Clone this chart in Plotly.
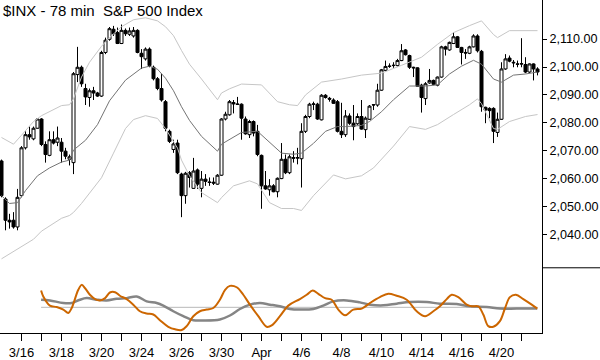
import plotly.graph_objects as go

title_text = "$INX - 78 min\u00a0\u00a0S&P 500 Index"

# ---- 78-minute OHLC bars (3/13 last day + 3/16 .. 4/21) ----
opens = [2066.4, 2052.8, 2045.2, 2045.2, 2042.8, 2054.0, 2071.1, 2075.8, 2074.3, 2078.1,
         2081.4, 2072.3, 2068.4, 2074.0, 2073.1, 2073.1, 2069.9, 2067.0, 2065.8, 2097.3,
         2099.9, 2092.3, 2089.1, 2091.5, 2090.7, 2089.6, 2105.2, 2109.9, 2113.5, 2112.3,
         2108.4, 2113.1, 2111.7, 2111.1, 2113.1, 2104.9, 2102.9, 2106.4, 2099.9, 2095.8,
         2092.3, 2087.6, 2077.0, 2070.5, 2072.8, 2061.7, 2054.0, 2062.2, 2056.6, 2063.2,
         2056.6, 2059.9, 2058.9, 2058.8, 2058.1, 2061.3, 2081.4, 2082.9, 2087.3, 2086.8,
         2086.7, 2081.4, 2075.8, 2080.5, 2077.0, 2068.4, 2057.5, 2056.1, 2057.5, 2055.4,
         2060.1, 2067.0, 2062.2, 2067.6, 2067.4, 2067.2, 2077.0, 2082.3, 2086.8, 2086.7,
         2081.1, 2089.9, 2088.8, 2088.2, 2087.6, 2077.0, 2075.8, 2082.5, 2079.9, 2079.7,
         2082.3, 2077.6, 2081.3, 2086.4, 2086.4, 2091.7, 2098.8, 2100.2, 2100.5, 2100.5,
         2102.3, 2106.1, 2104.1, 2099.9, 2099.7, 2093.5, 2088.7, 2094.3, 2095.2, 2093.5,
         2096.4, 2107.2, 2106.1, 2108.4, 2110.8, 2107.0, 2105.2, 2104.9, 2107.2, 2111.1,
         2105.6, 2085.6, 2085.2, 2085.2, 2076.6, 2081.3, 2099.3, 2103.2, 2101.7, 2101.1,
         2101.2, 2100.9, 2098.2, 2101.1, 2099.3]
highs = [2066.9, 2053.4, 2047.5, 2048.1, 2056.4, 2071.7, 2077.0, 2078.7, 2078.7, 2081.7,
         2081.7, 2073.4, 2077.0, 2077.0, 2078.7, 2074.6, 2071.1, 2068.7, 2098.2, 2107.2,
         2100.5, 2094.0, 2092.3, 2092.9, 2091.1, 2105.8, 2110.5, 2114.3, 2114.7, 2114.1,
         2115.2, 2113.8, 2114.1, 2114.3, 2113.5, 2106.4, 2107.0, 2107.0, 2100.5, 2096.4,
         2097.6, 2088.2, 2077.6, 2074.0, 2074.0, 2062.2, 2062.5, 2062.8, 2067.5, 2063.7,
         2062.8, 2061.7, 2060.5, 2060.5, 2061.7, 2081.7, 2084.0, 2088.2, 2088.2, 2089.3,
         2087.0, 2082.3, 2081.1, 2080.9, 2079.3, 2068.7, 2062.8, 2059.9, 2058.1, 2060.5,
         2072.8, 2068.7, 2068.7, 2069.9, 2071.1, 2079.9, 2082.9, 2087.2, 2087.6, 2087.2,
         2090.3, 2090.3, 2089.3, 2088.8, 2088.2, 2087.2, 2084.6, 2083.4, 2086.4, 2083.4,
         2088.2, 2082.3, 2086.4, 2086.7, 2094.0, 2099.3, 2102.3, 2101.3, 2101.7, 2102.9,
         2108.2, 2106.4, 2104.4, 2100.1, 2099.9, 2094.0, 2094.6, 2099.3, 2095.5, 2096.6,
         2107.6, 2107.6, 2109.1, 2112.3, 2111.1, 2107.2, 2106.4, 2107.6, 2111.7, 2111.7,
         2106.1, 2085.8, 2085.6, 2085.6, 2083.7, 2101.7, 2104.6, 2104.1, 2102.5, 2102.3,
         2110.3, 2103.5, 2101.3, 2101.3, 2099.9]
lows = [2053.4, 2041.6, 2042.2, 2042.2, 2041.6, 2053.4, 2070.5, 2074.0, 2073.8, 2077.9,
        2071.7, 2065.8, 2068.1, 2072.3, 2071.7, 2065.8, 2067.0, 2064.8, 2061.7, 2094.6,
        2092.9, 2086.4, 2085.8, 2088.2, 2089.3, 2089.3, 2104.6, 2109.4, 2111.1, 2108.2,
        2108.2, 2111.1, 2111.1, 2110.5, 2104.9, 2099.3, 2102.3, 2099.9, 2095.2, 2091.7,
        2087.6, 2077.0, 2072.8, 2069.3, 2061.7, 2046.3, 2051.1, 2056.9, 2056.4, 2056.4,
        2053.4, 2057.5, 2057.5, 2057.8, 2057.9, 2061.1, 2080.9, 2082.6, 2083.4, 2086.4,
        2074.0, 2075.8, 2074.6, 2075.2, 2068.1, 2049.3, 2056.1, 2054.0, 2055.2, 2053.4,
        2059.9, 2061.7, 2061.7, 2065.8, 2065.2, 2056.9, 2076.4, 2081.7, 2084.6, 2081.1,
        2080.9, 2088.7, 2087.6, 2086.8, 2076.6, 2074.6, 2075.0, 2079.3, 2073.8, 2079.3,
        2077.6, 2074.6, 2081.1, 2084.6, 2085.8, 2091.5, 2098.4, 2099.7, 2099.7, 2100.2,
        2102.1, 2104.1, 2099.3, 2096.4, 2092.9, 2083.7, 2086.4, 2094.0, 2093.5, 2093.1,
        2096.2, 2104.1, 2105.8, 2108.2, 2106.8, 2100.9, 2102.9, 2104.6, 2107.0, 2105.2,
        2084.0, 2079.9, 2081.7, 2072.8, 2075.0, 2081.1, 2099.0, 2101.7, 2099.9, 2099.9,
        2099.9, 2097.8, 2097.8, 2095.2, 2097.0]
closes = [2054.0, 2045.2, 2044.6, 2042.8, 2053.4, 2071.1, 2075.8, 2075.0, 2078.1, 2081.4,
          2072.3, 2068.7, 2074.0, 2072.8, 2074.6, 2069.9, 2068.1, 2067.9, 2097.6, 2099.9,
          2094.0, 2089.3, 2091.5, 2090.7, 2089.6, 2105.2, 2109.6, 2113.7, 2111.9, 2108.4,
          2113.1, 2111.9, 2112.9, 2113.1, 2105.2, 2103.7, 2106.4, 2100.5, 2095.8, 2092.3,
          2088.2, 2078.1, 2073.4, 2072.5, 2062.2, 2054.0, 2062.0, 2060.5, 2062.8, 2058.1,
          2059.9, 2059.1, 2058.7, 2058.5, 2061.3, 2081.4, 2083.1, 2087.6, 2086.8, 2086.6,
          2081.7, 2076.1, 2080.5, 2076.4, 2068.7, 2057.5, 2056.4, 2057.5, 2055.4, 2060.2,
          2067.0, 2062.2, 2067.9, 2067.4, 2067.6, 2077.0, 2082.3, 2086.7, 2086.7, 2081.4,
          2089.9, 2089.1, 2088.5, 2087.0, 2077.0, 2075.8, 2082.5, 2079.9, 2078.7, 2082.3,
          2077.8, 2081.7, 2086.0, 2086.5, 2091.7, 2099.0, 2100.2, 2100.3, 2100.6, 2102.3,
          2105.8, 2104.4, 2099.9, 2099.7, 2093.1, 2089.1, 2094.0, 2095.2, 2093.8, 2096.4,
          2107.2, 2106.4, 2108.8, 2110.8, 2107.0, 2105.2, 2105.0, 2107.2, 2111.1, 2105.8,
          2085.8, 2084.6, 2084.4, 2077.0, 2081.3, 2099.3, 2102.9, 2102.1, 2101.5, 2101.0,
          2101.1, 2098.2, 2101.1, 2099.3, 2098.2]
bars = list(range(len(opens)))

# ---- Bollinger bands (at bar positions) ----
upper_x = [0, 3, 5, 8, 10, 12, 15, 17, 18, 20, 22, 25, 27, 30, 33, 36, 39, 41, 43, 45, 47,
           50, 53, 54, 55, 57, 60, 65, 69, 72, 74, 76, 80, 85, 90, 95, 100, 105, 109, 113,
           117, 120, 123, 124, 127, 130, 134]
upper_band = [2074.8, 2072.4, 2075.6, 2080.5, 2082.6, 2084.0, 2086.2, 2086.5, 2088.6, 2096.4,
              2101.7, 2107.4, 2110.5, 2114.4, 2116.9, 2117.6, 2116.5, 2114.4, 2111.2, 2105.9,
              2101.0, 2095.7, 2090.4, 2088.3, 2090.7, 2092.2, 2093.9, 2093.6, 2087.6, 2086.5,
              2086.2, 2090.0, 2094.6, 2095.7, 2097.1, 2097.8, 2100.6, 2103.5, 2108.1, 2112.3,
              2114.8, 2116.5, 2111.6, 2110.5, 2113.0, 2113.0, 2113.0]
mid_x = [0, 2, 4, 6, 9, 12, 15, 17, 18, 21, 24, 27, 31, 35, 37, 39, 41, 43, 45, 47, 50, 54,
         55, 57, 60, 64, 66, 70, 73, 75, 78, 81, 84, 86, 90, 92, 95, 98, 102, 106, 109, 112,
         115, 118, 120, 123, 125, 128, 131, 134]
middle_band = [2054.0, 2051.2, 2051.5, 2055.8, 2061.1, 2063.9, 2066.0, 2066.7, 2070.3, 2073.8,
               2079.4, 2087.9, 2095.3, 2099.6, 2100.3, 2099.2, 2096.0, 2091.5, 2085.8, 2080.9,
               2075.2, 2069.9, 2072.4, 2074.1, 2076.6, 2077.0, 2074.5, 2069.2, 2068.8, 2069.2,
               2072.7, 2077.0, 2078.7, 2078.7, 2079.1, 2080.5, 2084.0, 2088.3, 2093.2, 2093.2,
               2093.6, 2097.5, 2100.3, 2102.4, 2101.0, 2095.7, 2094.6, 2097.1, 2097.5, 2098.2]
lower_x = [0, 5, 8, 10, 15, 17, 18, 20, 25, 28, 31, 33, 36, 39, 41, 44, 45, 47, 50, 54, 55,
           58, 62, 64, 67, 70, 73, 75, 78, 83, 86, 90, 93, 98, 102, 106, 109, 113, 117, 119,
           120, 123, 124, 127, 131, 134]
lower_band = [2031.4, 2035.6, 2038.4, 2041.3, 2045.9, 2046.9, 2048.0, 2051.2, 2060.4, 2069.2,
              2078.0, 2081.2, 2082.6, 2081.6, 2078.0, 2071.0, 2066.7, 2061.1, 2055.1, 2051.5,
              2053.3, 2057.5, 2059.3, 2058.2, 2051.5, 2049.4, 2049.4, 2048.7, 2054.0, 2061.4,
              2060.0, 2061.1, 2063.9, 2071.7, 2078.7, 2077.7, 2079.4, 2083.0, 2086.5, 2088.6,
              2086.9, 2078.0, 2077.7, 2080.5, 2082.3, 2083.0]

# ---- lower oscillator panel ----
osc_x = [9.9, 10.45, 12.1, 13.8, 15.45, 16.7, 17.55, 19.2, 20.05, 20.9, 22.1, 23.4, 24.6,
         25.9, 27.1, 28.4, 29.6, 31.3, 32.95, 34.6, 36.3, 37.95, 39.6, 41.7, 43.4, 45.05,
         46.3, 47.95, 49.6, 51.3, 52.95, 54.6, 55.9, 57.1, 58.8, 60.45, 62.1, 64.2, 66.3,
         67.55, 69.6, 71.7, 74.6, 76.3, 77.8, 79.2, 80.9, 82.55, 84.2, 85.9, 87.95, 90.05,
         92.1, 94.6, 96.7, 98.8, 101.3, 103.8, 105.9, 107.95, 109.6, 111.3, 112.55, 114.2,
         116.3, 117.55, 119.2, 120.45, 121.7, 122.95, 124.6, 125.9, 127.1, 128.6, 130.45,
         132.55, 133.95]
osc_fast = [17, 11, 1.7, 0.3, -2.3, -5.7, -0.7, 17.7, 22.7, 19.3, 12.7, 8.3, 7, 9.3, 15, 15.3,
            11.7, 8.3, 2.7, -4, -6.3, -7.3, -13, -19.7, -22.3, -23, -19, -9, -4, -2.3, -0.7,
            7.7, 17.7, 21.7, 20.3, 12.7, 2.7, -9, -19.7, -18.3, -9, 1.7, 8.3, 12.7, 17, 13.7,
            9.3, 7.7, -2.3, -8, -2.3, -1.3, 4.3, 10.3, 13.7, 11.7, 7.7, -4, -9, -4, 1, 8.3,
            12.7, 10.3, 2.7, 1, 1, -7.3, -19, -19.7, -14, -0.7, 10.3, 12.7, 8.3, 2.7, -1.3]
sig_x = [9.9, 12.1, 15.45, 17.55, 19.6, 21.3, 23.8, 26.3, 28.8, 31.3, 33.8, 36.3, 38.8,
         40.45, 42.95, 45.45, 47.95, 50.45, 54.6, 57.1, 59.6, 62.1, 64.6, 67.1, 69.6, 72.1,
         74.6, 77.95, 80.45, 82.95, 86.3, 89.6, 92.1, 95.45, 98.8, 102.1, 106.3, 109.6,
         113.8, 117.1, 121.3, 124.6, 128.8, 133.95]
osc_slow = [7.7, 7, 4.3, 4.3, 7.7, 9.3, 7.7, 7, 8.7, 9.3, 11, 6, 4.3, 1.7, -4, -9, -13, -13.3,
            -12.3, -8.3, -1.7, 2.7, 4.3, 2.7, 1, -1.7, -2.3, -1.7, 1.7, 6, 7, 5, 2.7, 2, 3.7,
            5.3, 5.3, 3.7, 3.3, 1, 0.3, -1.3, -1.3, -1.3]

# ---- x axis (one tick per trading day, label every other day) ----
day_ticks = [5, 10, 15, 20, 25, 30, 35, 40, 45, 50, 55, 60, 65, 70, 75, 80, 85, 90, 95, 100,
             105, 110, 115, 120, 125, 130]
day_labels = ["3/16", "", "3/18", "", "3/20", "", "3/24", "", "3/26", "", "3/30", "", "Apr", "",
              "4/6", "", "4/8", "", "4/10", "", "4/14", "", "4/16", "", "4/20", ""]
price_ticks = [2040, 2050, 2060, 2070, 2080, 2090, 2100, 2110]

FONT = "Liberation Sans, Arial, sans-serif"

fig = go.Figure()
fig.add_trace(go.Scatter(x=upper_x, y=upper_band, mode="lines",
                         line=dict(color="#c6c6c6", width=1), xaxis="x", yaxis="y"))
fig.add_trace(go.Scatter(x=lower_x, y=lower_band, mode="lines",
                         line=dict(color="#c6c6c6", width=1), xaxis="x", yaxis="y"))
fig.add_trace(go.Scatter(x=mid_x, y=middle_band, mode="lines",
                         line=dict(color="#747474", width=1), xaxis="x", yaxis="y"))
fig.add_trace(go.Candlestick(
    x=bars, open=opens, high=highs, low=lows, close=closes,
    increasing=dict(line=dict(color="black", width=1), fillcolor="white"),
    decreasing=dict(line=dict(color="black", width=1), fillcolor="black"),
    whiskerwidth=0, xaxis="x", yaxis="y"))
fig.add_trace(go.Scatter(x=[osc_x[0], osc_x[-1]], y=[0, 0], mode="lines",
                         line=dict(color="#b8b8b8", width=1), xaxis="x", yaxis="y2"))
fig.add_trace(go.Scatter(x=sig_x, y=osc_slow, mode="lines",
                         line=dict(color="#858585", width=2.5, shape="spline"),
                         xaxis="x", yaxis="y2"))
fig.add_trace(go.Scatter(x=osc_x, y=osc_fast, mode="lines",
                         line=dict(color="#cc6600", width=2, shape="spline"),
                         xaxis="x", yaxis="y2"))

split = 66 / 337
fig.update_layout(
    width=600, height=360,
    margin=dict(l=0, r=58, t=0, b=23),
    paper_bgcolor="white", plot_bgcolor="white",
    showlegend=False,
    boxgap=0.25, boxgroupgap=0,
    xaxis=dict(domain=[0, 1], range=[-0.375, 135.125], anchor="y2",
               showline=True, linecolor="black", linewidth=1,
               ticks="outside", ticklen=7, tickcolor="black", tickwidth=1,
               tickvals=day_ticks, ticktext=day_labels,
               tickfont=dict(family=FONT, size=13, color="black"),
               showgrid=False, zeroline=False,
               rangeslider=dict(visible=False)),
    yaxis=dict(domain=[split, 1], range=[2028.2, 2123.96], anchor="x", side="right",
               showline=True, linecolor="black", linewidth=1,
               ticks="outside", ticklen=4, tickcolor="black",
               tickvals=price_ticks, tickformat=",.2f",
               tickfont=dict(family=FONT, size=12.6, color="black"),
               showgrid=False, zeroline=False),
    yaxis2=dict(domain=[0, split], range=[-26, 40], anchor="x", side="right",
                showline=True, linecolor="black", linewidth=1,
                showticklabels=False, ticks="", showgrid=False, zeroline=False),
    shapes=[dict(type="line", xref="paper", yref="paper", x0=1, x1=600 / 542,
                 y0=split, y1=split, line=dict(color="black", width=1))],
    annotations=[dict(text=title_text, x=0, y=1, xref="paper", yref="paper",
                      xanchor="left", yanchor="top", xshift=1, yshift=0,
                      showarrow=False, font=dict(family=FONT, size=15, color="black"))],
)

fig.write_html("out.html", config={"displayModeBar": False},
               post_script="document.body.style.margin='0';document.body.style.padding='0';")
